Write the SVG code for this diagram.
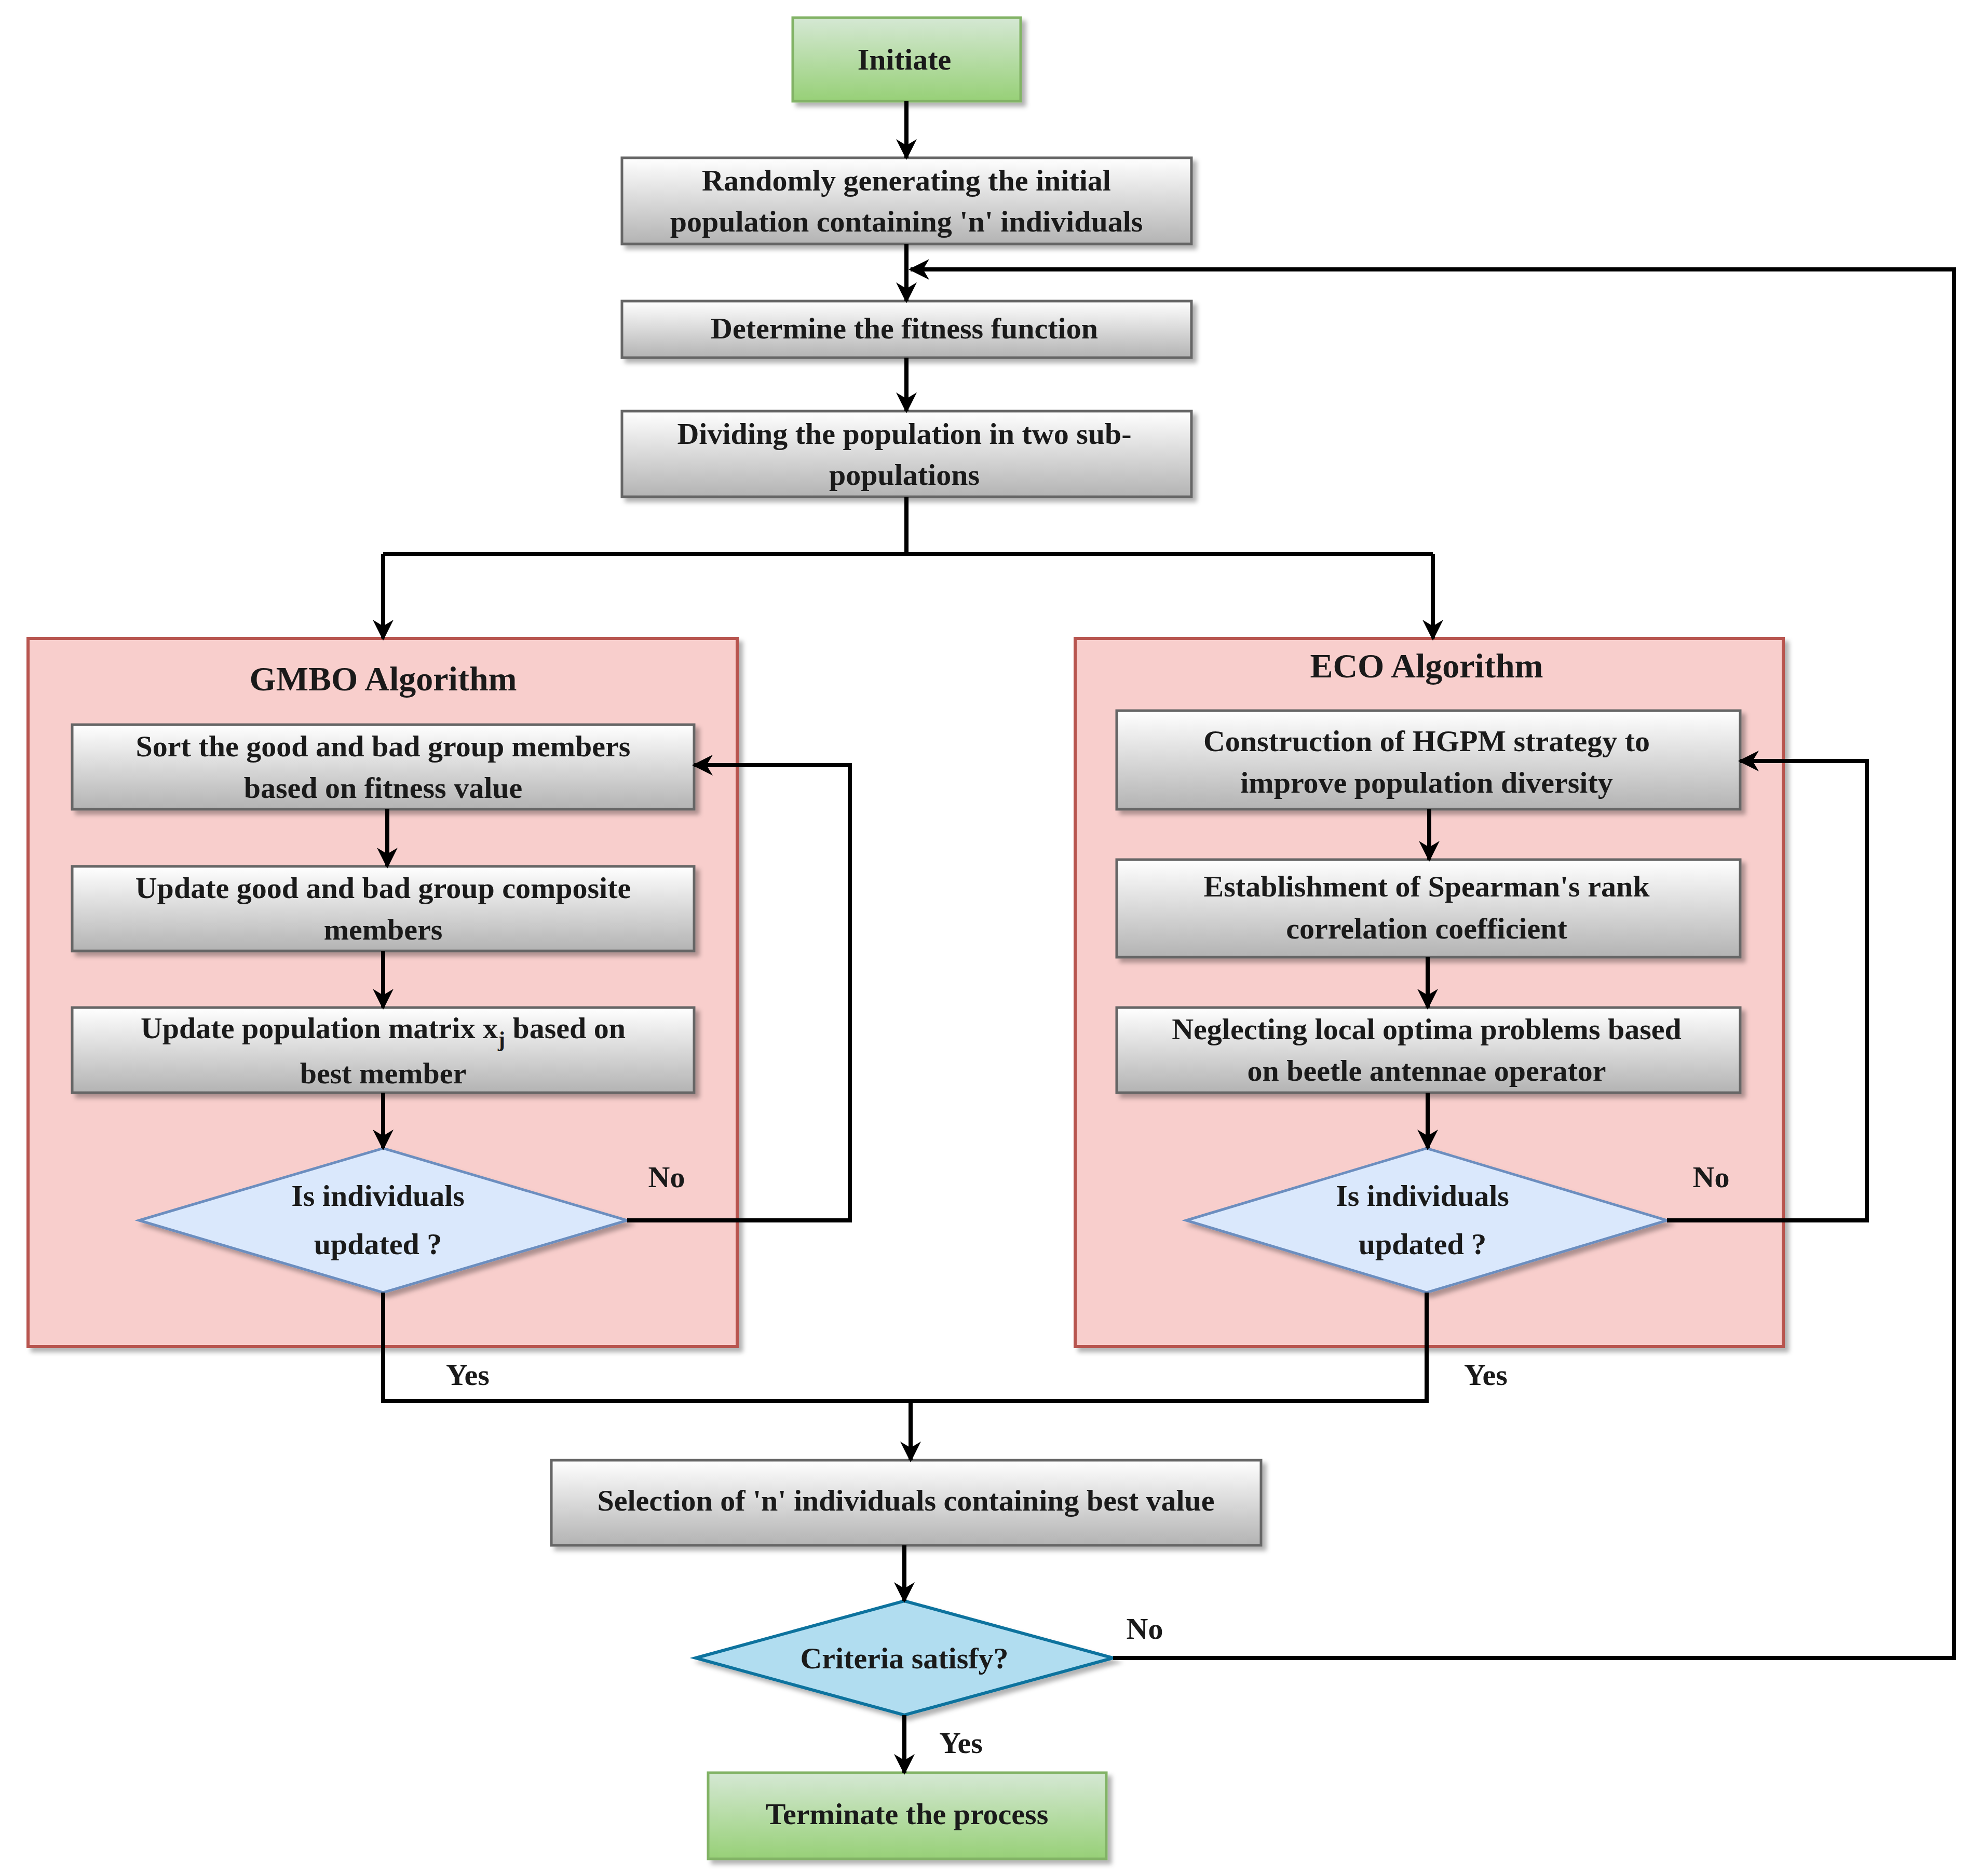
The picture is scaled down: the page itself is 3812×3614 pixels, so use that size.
<svg xmlns="http://www.w3.org/2000/svg" width="3812" height="3614" viewBox="0 0 3812 3614">
<defs>
<linearGradient id="gg" x1="0" y1="0" x2="0" y2="1"><stop offset="0" stop-color="#ffffff"/><stop offset="1" stop-color="#b3b3b3"/></linearGradient>
<linearGradient id="gn" x1="0" y1="0" x2="0" y2="1"><stop offset="0" stop-color="#d5e8d4"/><stop offset="1" stop-color="#97d077"/></linearGradient>
<filter id="sh" x="-5%" y="-5%" width="115%" height="125%"><feDropShadow dx="8" dy="8" stdDeviation="4" flood-color="#000" flood-opacity="0.3"/></filter>
<marker id="ar" viewBox="0 0 10 10" refX="9" refY="5" markerWidth="5" markerHeight="5" orient="auto" markerUnits="strokeWidth"><path d="M0,0 L10,5 L0,10 L3,5 z" fill="#000"/></marker>
<style>
text{font-family:"Liberation Serif",serif;font-weight:bold;font-size:58px;fill:#1a1a1a;text-anchor:middle}
.b{fill:url(#gg);stroke:#666;stroke-width:5;filter:url(#sh)}
.g{fill:url(#gn);stroke:#82b366;stroke-width:5;filter:url(#sh)}
.p{fill:#f8cecc;stroke:#b85450;stroke-width:6;filter:url(#sh)}
.d{fill:#dae8fc;stroke:#6c8ebf;stroke-width:5;filter:url(#sh)}
.c{fill:#b1ddf0;stroke:#10739e;stroke-width:6;filter:url(#sh)}
.l{fill:none;stroke:#000;stroke-width:8}
.t{font-size:66px}
</style>
</defs>
<g id="gmbo"><rect class="p" x="54" y="1230" width="1366" height="1364"/><text class="t" x="738" y="1330">GMBO Algorithm</text></g>
<g id="eco"><rect class="p" x="2071" y="1230" width="1364" height="1364"/><text class="t" x="2748" y="1305">ECO Algorithm</text></g>
<g id="n_init"><rect class="g" x="1527" y="34" width="439" height="161"/><text x="1742" y="134">Initiate</text></g>
<g id="n_rand"><rect class="b" x="1198" y="304" width="1097" height="166"/><text x="1746" y="367">Randomly generating the initial</text><text x="1746" y="446">population containing 'n' individuals</text></g>
<g id="n_fit"><rect class="b" x="1198" y="580" width="1097" height="109"/><text x="1742" y="652">Determine the fitness function</text></g>
<g id="n_div"><rect class="b" x="1198" y="792" width="1097" height="165"/><text x="1742" y="855">Dividing the population in two sub-</text><text x="1742" y="934">populations</text></g>
<g id="l1"><rect class="b" x="139" y="1396" width="1198" height="163"/><text x="738" y="1457">Sort the good and bad group members</text><text x="738" y="1537">based on fitness value</text></g>
<g id="l2"><rect class="b" x="139" y="1669" width="1198" height="163"/><text x="738" y="1730">Update good and bad group composite</text><text x="738" y="1810">members</text></g>
<g id="l3"><rect class="b" x="139" y="1941" width="1198" height="164"/><text x="738" y="2000">Update population matrix x<tspan font-size="42" dy="16">j</tspan><tspan dy="-16">  based on</tspan></text><text x="738" y="2087">best member</text></g>
<g id="ld"><polygon class="d" points="268,2351 738,2212 1208,2351 738,2490"/><text x="728" y="2323">Is individuals</text><text x="728" y="2416">updated ?</text></g>
<g id="r1"><rect class="b" x="2151" y="1369" width="1201" height="190"/><text x="2748" y="1447">Construction of HGPM strategy to</text><text x="2748" y="1527">improve population diversity</text></g>
<g id="r2"><rect class="b" x="2151" y="1656" width="1201" height="188"/><text x="2748" y="1727">Establishment of Spearman's rank</text><text x="2748" y="1808">correlation coefficient</text></g>
<g id="r3"><rect class="b" x="2151" y="1941" width="1201" height="164"/><text x="2748" y="2002">Neglecting local optima problems based</text><text x="2748" y="2082">on beetle antennae operator</text></g>
<g id="rd"><polygon class="d" points="2285,2351 2748,2212 3211,2351 2748,2490"/><text x="2740" y="2323">Is individuals</text><text x="2740" y="2416">updated ?</text></g>
<g id="n_sel"><rect class="b" x="1062" y="2813" width="1367" height="164"/><text x="1745" y="2910">Selection of 'n' individuals containing best value</text></g>
<g id="n_crit"><polygon class="c" points="1340,3194 1742,3084 2144,3194 1742,3304"/><text x="1742" y="3214">Criteria satisfy?</text></g>
<g id="n_term"><rect class="g" x="1364" y="3415" width="767" height="166"/><text x="1747" y="3514">Terminate the process</text></g>
<g id="connectors">
<path class="l" marker-end="url(#ar)" d="M1746,195 V304"/>
<path class="l" marker-end="url(#ar)" d="M1746,470 V580"/>
<path class="l" marker-end="url(#ar)" d="M1746,689 V792"/>
<path class="l" d="M1746,957 V1067"/>
<path class="l" d="M738,1067 H2760"/>
<path class="l" marker-end="url(#ar)" d="M738,1067 V1230"/>
<path class="l" marker-end="url(#ar)" d="M2760,1067 V1230"/>
<path class="l" marker-end="url(#ar)" d="M746,1559 V1669"/>
<path class="l" marker-end="url(#ar)" d="M738,1832 V1941"/>
<path class="l" marker-end="url(#ar)" d="M738,2105 V2212"/>
<path class="l" marker-end="url(#ar)" d="M1208,2351 H1637 V1474 H1337"/>
<path class="l" marker-end="url(#ar)" d="M2753,1559 V1656"/>
<path class="l" marker-end="url(#ar)" d="M2750,1844 V1941"/>
<path class="l" marker-end="url(#ar)" d="M2750,2105 V2212"/>
<path class="l" marker-end="url(#ar)" d="M3211,2351 H3596 V1466 H3352"/>
<path class="l" d="M738,2490 V2699 H2748 V2490"/>
<path class="l" marker-end="url(#ar)" d="M1754,2699 V2813"/>
<path class="l" marker-end="url(#ar)" d="M1742,2977 V3084"/>
<path class="l" marker-end="url(#ar)" d="M2144,3194 H3764 V519 H1754"/>
<path class="l" marker-end="url(#ar)" d="M1742,3304 V3415"/>
<text x="1284" y="2287">No</text><text x="3296" y="2287">No</text>
<text x="901" y="2668">Yes</text><text x="2862" y="2668">Yes</text>
<text x="2205" y="3157">No</text><text x="1851" y="3377">Yes</text>
</g>
</svg>
